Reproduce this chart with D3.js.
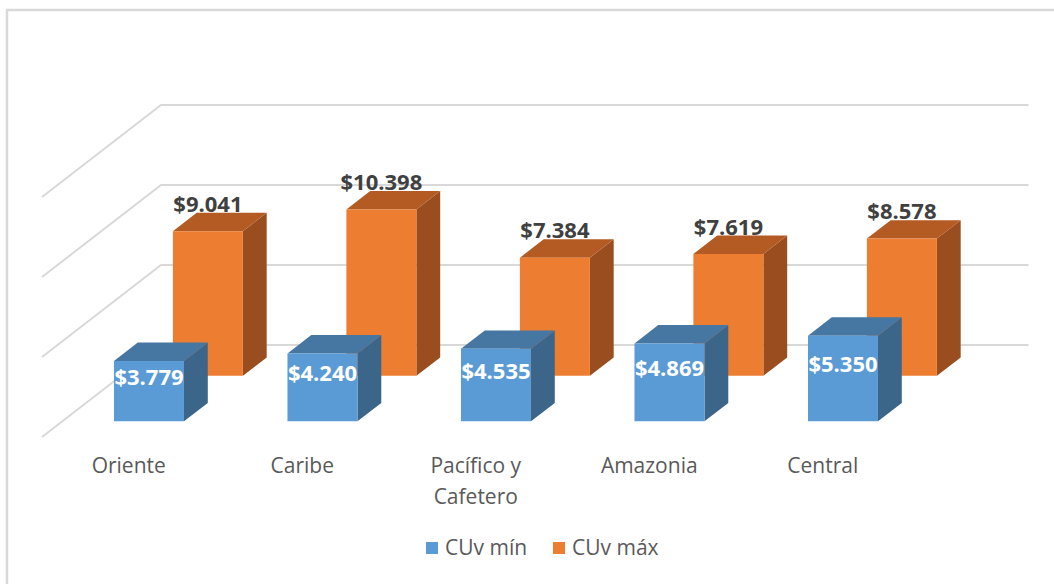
<!DOCTYPE html>
<html>
<head>
<meta charset="utf-8">
<script src="https://cdn.jsdelivr.net/npm/d3@7"></script>
<style>
  body { margin: 0; background: #fff; }
  svg { display: block; font-family: "Open Sans", sans-serif; }
</style>
</head>
<body>
<svg width="1054" height="584"></svg>
<script>
// ========
// DATA
// ========
var categories = ["Oriente", "Caribe", "Pacífico y\nCafetero", "Amazonia", "Central"];
var seriesNames = ["CUv mín", "CUv máx"];
var cuvMin = [3779, 4240, 4535, 4869, 5350];
var cuvMax = [9041, 10398, 7384, 7619, 8578];
var gridTicks = [0, 5000, 10000, 15000];

// ====================
// COLORS / GEOMETRY
// ====================
var colors = {
  "CUv mín": { front: "#5b9bd5", top: "#4676a2", side: "#3b6589" },
  "CUv máx": { front: "#ed7d31", top: "#b45b23", side: "#9a4d1e" }
};

var svg = d3.select("svg");

// floor front edge at depth 0, back wall at depth 1
var x0 = 42, baseY = 437;
var depthDx = 119, depthDy = -92;

var x = d3.scaleBand()
  .domain(d3.range(categories.length))
  .range([x0, x0 + 5 * 173.5]);

var y = d3.scaleLinear()
  .domain([0, 15000])
  .range([0, 240]);

// where each row sits in depth (fraction of full depth)
var depth = d3.scaleOrdinal()
  .domain(seriesNames)
  .range([0.17, 0.665]);
var boxDepth = 0.2;
var barWidth = 70;

var fmt = d3.formatLocale({ decimal: ",", thousands: ".", grouping: [3], currency: ["$", ""] }).format("$,.0f");

// project (x at depth 0, value, depth) -> screen
function P(px, v, d) {
  return [px + d * depthDx, baseY + d * depthDy - y(v)];
}

// ############################
// # chart border
// ############################
svg.append("rect")
  .attr("x", 7).attr("y", 10)
  .attr("width", 1060).attr("height", 600)
  .attr("fill", "none")
  .attr("stroke", "#d9d9d9")
  .attr("stroke-width", 2.5);

// ############################
// # walls gridlines
// ############################
var grid = svg.append("g").attr("stroke", "#d9d9d9").attr("stroke-width", 2).attr("fill", "none");

gridTicks.forEach(function (t) {
  var a = P(x0, t, 0), b = P(x0, t, 1), c = P(x.range()[1], t, 1);
  grid.append("polyline")
    .attr("points", [a, b, c].map(function (p) { return p.join(","); }).join(" "));
});

// ############################
// # bars (back row first)
// ############################
function drawRow(name, values) {
  var d0 = depth(name), d1 = d0 + boxDepth;
  var c = colors[name];
  var g = svg.append("g");
  values.forEach(function (v, i) {
    var xl = x(i) + (x.bandwidth() - barWidth) / 2, xr = xl + barWidth;
    var fbl = P(xl, 0, d0), fbr = P(xr, 0, d0), ftl = P(xl, v, d0), ftr = P(xr, v, d0);
    var btl = P(xl, v, d1), btr = P(xr, v, d1), bbr = P(xr, 0, d1);
    var poly = function (pts) { return pts.map(function (p) { return p.join(","); }).join(" "); };
    g.append("polygon").attr("points", poly([ftr, btr, bbr, fbr])).attr("fill", c.side);
    g.append("polygon").attr("points", poly([ftl, btl, btr, ftr])).attr("fill", c.top);
    g.append("polygon").attr("points", poly([fbl, ftl, ftr, fbr])).attr("fill", c.front);
  });
}

drawRow("CUv máx", cuvMax);
drawRow("CUv mín", cuvMin);

// ############################
// # data labels
// ############################
cuvMax.forEach(function (v, i) {
  var cx = x(i) + x.bandwidth() / 2;
  var top = P(cx, v, depth("CUv máx") + boxDepth);
  var front = P(cx, v, depth("CUv máx"));
  svg.append("text")
    .attr("x", front[0]).attr("y", top[1] - 1)
    .attr("text-anchor", "middle")
    .attr("font-size", 22).attr("font-weight", "bold")
    .attr("fill", "#404040")
    .text(fmt(v));
});

cuvMin.forEach(function (v, i) {
  var cx = x(i) + x.bandwidth() / 2;
  var top = P(cx, v, depth("CUv mín") + boxDepth);
  var bottom = P(cx, 0, depth("CUv mín"));
  svg.append("text")
    .attr("x", bottom[0]).attr("y", (top[1] + bottom[1]) / 2 + 3)
    .attr("text-anchor", "middle")
    .attr("font-size", 22).attr("font-weight", "bold")
    .attr("fill", "#ffffff")
    .text(fmt(v));
});

// ############################
// # category labels
// ############################
categories.forEach(function (cat, i) {
  var t = svg.append("text")
    .attr("text-anchor", "middle")
    .attr("font-size", 21)
    .attr("fill", "#595959");
  cat.split("\n").forEach(function (line, k) {
    t.append("tspan")
      .attr("x", x(i) + x.bandwidth() / 2)
      .attr("y", 473 + k * 31)
      .text(line);
  });
});

// ############################
// # legend
// ############################
var legendX = [426, 553];
seriesNames.forEach(function (name, i) {
  svg.append("rect")
    .attr("x", legendX[i]).attr("y", 542)
    .attr("width", 12).attr("height", 12)
    .attr("fill", colors[name].front);
  svg.append("text")
    .attr("x", legendX[i] + 19).attr("y", 555)
    .attr("font-size", 21)
    .attr("fill", "#595959")
    .text(name);
});
</script>
</body>
</html>
